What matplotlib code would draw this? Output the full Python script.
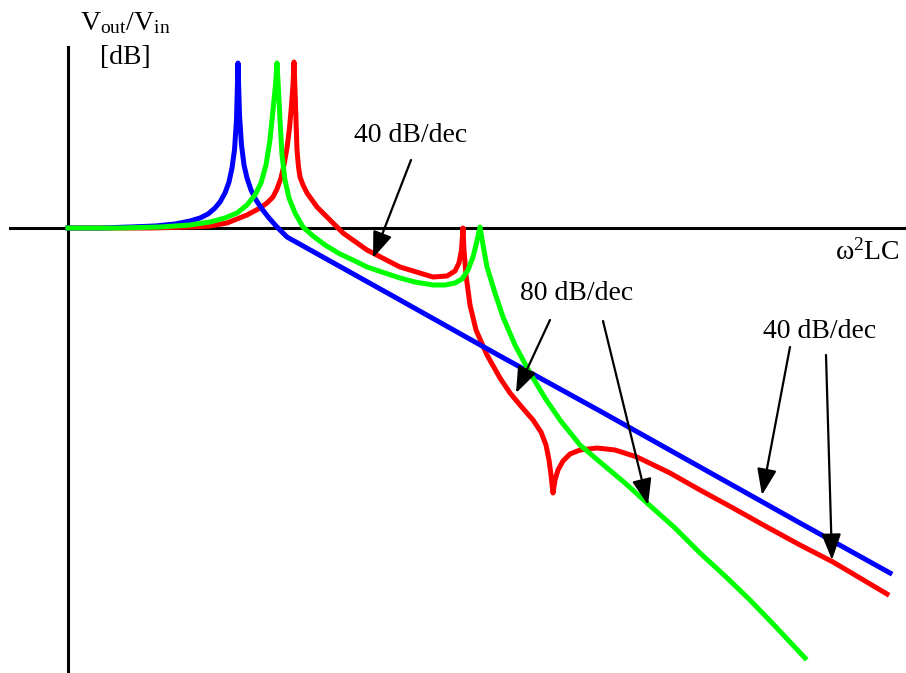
import matplotlib
matplotlib.use("Agg")
import matplotlib.pyplot as plt

plt.rcParams['font.family'] = ['Liberation Serif', 'DejaVu Serif']
plt.rcParams['mathtext.fontset'] = 'custom'
plt.rcParams['mathtext.rm'] = 'Liberation Serif'
plt.rcParams['mathtext.it'] = 'Liberation Serif:italic'

# Curves (schematic coordinates: x right, y down)
blue_x = [68, 100, 130, 155, 175, 190, 200, 208, 215, 220, 225, 229, 232, 234.5, 236.5, 238,
          239.5, 241.5, 244, 247, 251, 256, 262, 269, 277, 287,
          400, 500, 600, 700, 800, 890]
blue_y = [228, 228, 227, 226, 224, 221, 218, 214, 208, 202, 193, 182, 168, 150, 120, 63,
          115, 145, 165, 178, 190, 200, 209, 218, 227, 237,
          300, 356, 411, 467, 523, 573]

green_x = [68, 120, 160, 190, 210, 225, 237, 247, 255, 261, 266, 270, 273, 275.5, 277,
           278.5, 280, 282, 285, 289, 295, 303, 313, 325, 340, 355, 367, 385, 400, 415, 433,
           445, 455, 462, 468, 473, 476.5, 480,
           483, 487, 495, 503, 515, 530, 545, 560, 580, 600, 625, 647, 675, 700, 725, 750, 775, 790, 805]
green_y = [228, 228, 227, 225, 222, 218, 213, 205, 195, 183, 165, 140, 110, 85, 63,
           90, 120, 155, 180, 198, 213, 227, 236, 245, 254, 261, 267, 273, 278, 282, 285,
           285, 283, 279, 270, 257, 243, 227,
           245, 267, 293, 317, 345, 373, 398, 420, 445, 462, 483, 503, 528, 553, 576, 600, 626, 642, 658]

red_x = [68, 150, 190, 210, 227, 247, 260, 267, 273, 277, 281, 284, 287, 289.5, 291.5, 293, 294,
         295, 296, 297, 298.5, 300, 303, 307, 312, 317, 327, 343, 367, 400, 433, 447, 455, 459,
         461.5, 463,
         464, 466, 470, 476, 487, 500, 510, 520, 533, 541, 546, 549, 551, 553,
         555, 558, 563, 570, 580, 597, 615, 637, 670, 700, 733, 767, 800, 833, 860, 887]
red_y = [228, 228, 227, 226, 223, 215, 208, 203, 197, 189, 178, 165, 148, 128, 105, 85, 62,
         90, 120, 150, 167, 177, 185, 193, 200, 207, 217, 233, 250, 267, 277, 276, 271, 263,
         250, 228,
         250, 275, 305, 330, 355, 378, 393, 405, 420, 432, 445, 460, 475, 493,
         480, 470, 461, 454, 450, 448, 450, 457, 473, 490, 508, 527, 545, 562, 578, 594]

y_label = r'$\mathrm{V_{out}/V_{in}}$'
y_unit = '[dB]'
x_label = r'$\mathrm{\omega^{2}LC}$'
slope_labels = ['40 dB/dec', '80 dB/dec', '40 dB/dec']

fig = plt.figure(figsize=(9.06, 6.73), dpi=100)
ax = fig.add_axes([0, 0, 1, 1])
ax.set_xlim(0, 906)
ax.set_ylim(673, 0)
ax.axis('off')

# axes lines
ax.plot([10, 906], [228, 228], color='black', lw=2.2, zorder=1)
ax.plot([68, 68], [47, 673], color='black', lw=2.2, zorder=1)

lw = 3.6
ax.plot(blue_x, blue_y, color='#0000FF', lw=lw, zorder=3, solid_joinstyle='round')
ax.plot(red_x, red_y, color='#FF0000', lw=lw, zorder=2, solid_joinstyle='round')
ax.plot(green_x, green_y, color='#00FF00', lw=lw, zorder=4, solid_joinstyle='round')

fs = 20
ax.text(125, 30, y_label, fontsize=fs, ha='center', va='baseline')
ax.text(125, 58, y_unit, fontsize=fs, ha='center', va='center')
ax.text(900, 252, x_label, fontsize=fs, ha='right', va='center')

ax.text(411, 135, slope_labels[0], fontsize=fs, ha='center', va='center')
ax.text(577, 294, slope_labels[1], fontsize=fs, ha='center', va='center')
ax.text(820, 332, slope_labels[2], fontsize=fs, ha='center', va='center')

aprops = dict(arrowstyle='-|>,head_length=0.8,head_width=0.3', color='black', lw=1.6,
              mutation_scale=20, shrinkA=0, shrinkB=0)
arrows = [((411, 160), (373, 258)),
          ((550, 320), (516, 393)),
          ((603, 321), (648, 505)),
          ((790, 347), (762, 495)),
          ((826, 355), (832, 560))]
for start, tip in arrows:
    ax.annotate('', xy=tip, xytext=start, arrowprops=aprops, zorder=6)

fig.savefig('out.png', dpi=100)
